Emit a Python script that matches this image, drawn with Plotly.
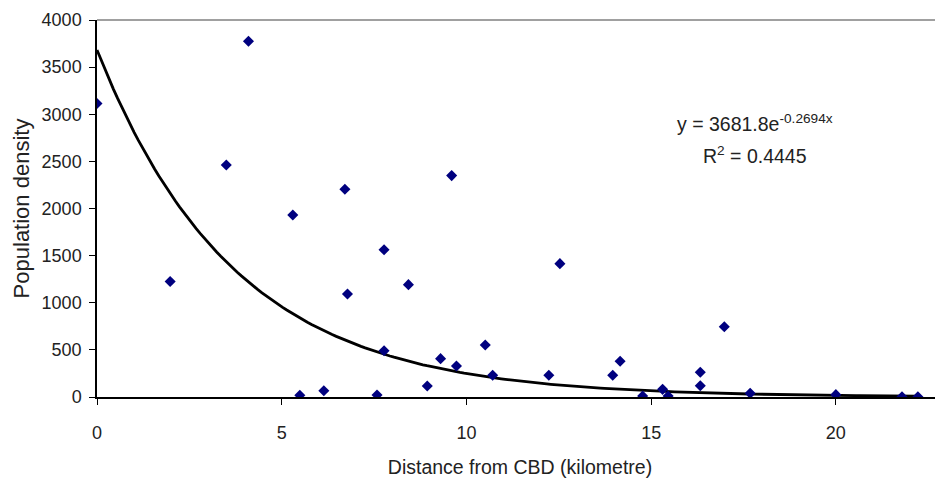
import numpy as np
import plotly.graph_objects as go

distance_km = [0.0, 1.98, 3.5, 4.1, 5.3, 5.49, 6.14, 6.71, 6.78, 7.58, 7.77, 7.77,
               8.43, 8.94, 9.30, 9.60, 9.73, 10.51, 10.71, 12.23, 12.53, 13.96,
               14.16, 14.77, 15.31, 15.46, 16.33, 16.33, 16.98, 17.68, 20.0, 21.79, 22.22]
population_density = [3115, 1226, 2461, 3774, 1931, 18, 67, 2204, 1093, 21, 1563, 491,
                      1192, 117, 407, 2349, 329, 552, 230, 230, 1415, 230,
                      379, 11, 81, 11, 120, 262, 746, 39, 25, 3, 3]

trend_a = 3681.8
trend_b = -0.2694
r_squared = 0.4445

x_ticks = [0, 5, 10, 15, 20]
y_ticks = [0, 500, 1000, 1500, 2000, 2500, 3000, 3500, 4000]

trend_x = np.linspace(0, max(distance_km), 200)
trend_y = trend_a * np.exp(trend_b * trend_x)

FONT = "Liberation Sans"

fig = go.Figure()
fig.add_trace(go.Scatter(
    x=trend_x, y=trend_y, mode="lines",
    line=dict(color="black", width=2.8), hoverinfo="skip", showlegend=False))
fig.add_trace(go.Scatter(
    x=distance_km, y=population_density, mode="markers",
    marker=dict(symbol="diamond", color="#00007f", size=8.5, line=dict(width=0)),
    showlegend=False))

fig.update_layout(
    width=935, height=473,
    margin=dict(l=89, r=0, t=12, b=84),
    paper_bgcolor="white", plot_bgcolor="white",
    font=dict(family=FONT, size=18, color="#222222"),
    xaxis=dict(range=[0, 22.9], tickvals=x_ticks, showgrid=False, zeroline=False,
               showline=True, linecolor="black", linewidth=1.5,
               ticks="outside", ticklen=6, tickcolor="black", tickwidth=1,
               ticklabelstandoff=13,
               title=dict(text="Distance from CBD (kilometre)", standoff=18,
                          font=dict(size=19.5))),
    yaxis=dict(range=[0, 4000], tickvals=y_ticks, showgrid=False, zeroline=False,
               showline=True, linecolor="black", linewidth=1.5,
               ticks="outside", ticklen=6, tickcolor="black", tickwidth=1,
               ticklabelstandoff=4,
               title=dict(text="Population density", standoff=6,
                          font=dict(size=22))),
    shapes=[
        dict(type="line", xref="paper", yref="paper", x0=0, x1=1, y0=1, y1=1,
             line=dict(color="#a0a0a0", width=2)),
    ],
    annotations=[
        dict(xref="x", yref="y", x=17.81, y=2907, showarrow=False,
             text=f"y = {trend_a}e<sup>{trend_b}x</sup>", font=dict(size=19.5)),
        dict(xref="x", yref="y", x=17.81, y=2568, showarrow=False,
             text=f"R<sup>2</sup> = {r_squared}", font=dict(size=19.5)),
    ],
)

fig.write_html("out.html")
